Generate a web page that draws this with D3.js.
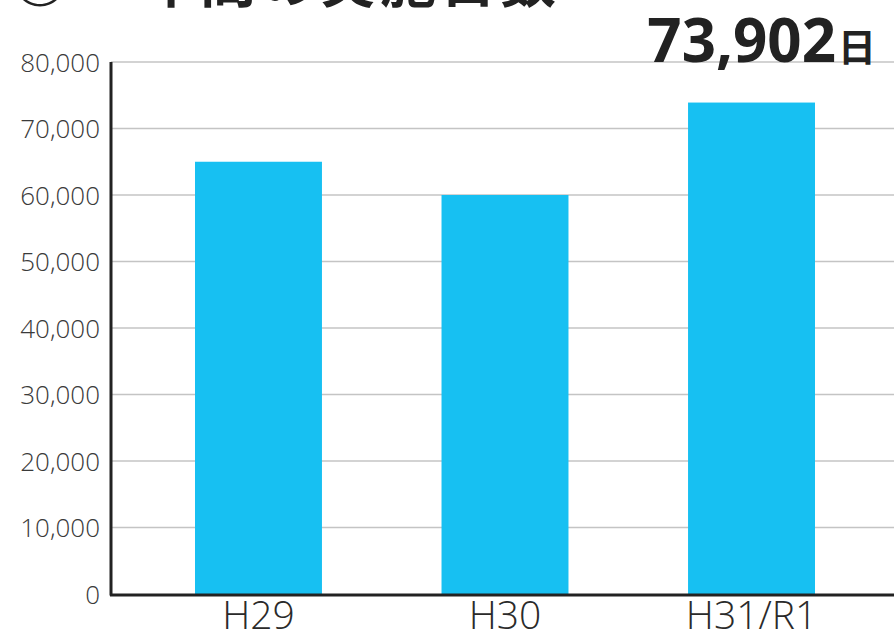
<!DOCTYPE html>
<html>
<head>
<meta charset="utf-8">
<script src="https://cdn.jsdelivr.net/npm/d3@7"></script>
<style>
  html, body { margin: 0; padding: 0; background: #fff; }
  svg { display: block; }
  .tick text { font-family: "Open Sans", sans-serif; font-weight: 300; }
</style>
</head>
<body>
<div id="chart"></div>
<script>
// data
var years = ["H29", "H30", "H31/R1"];
var days = [65000, 60000, 73902];
var yTicks = [0, 10000, 20000, 30000, 40000, 50000, 60000, 70000, 80000];
var totalLabel = "73,902";
var unitLabel = "日";
var titleText = "年間の実施日数";

var width = 894, height = 639;

var svg = d3.select("#chart")
  .append("svg")
  .attr("width", width)
  .attr("height", height);

var x = d3.scaleBand()
  .domain(years)
  .range([195, 815])
  .paddingInner(0.485)
  .paddingOuter(0);

var y = d3.scaleLinear()
  .domain([0, 80000])
  .range([594, 62]);

// title, cut off at the top edge
svg.append("text")
  .attr("x", 12).attr("y", 2)
  .style("font-family", "'Noto Sans CJK JP', sans-serif")
  .style("font-weight", 700)
  .style("font-size", "56px")
  .attr("fill", "#222")
  .text("◎");
svg.append("text")
  .attr("x", 140).attr("y", 2)
  .style("font-family", "'Noto Sans CJK JP', sans-serif")
  .style("font-weight", 700)
  .style("font-size", "56px")
  .style("letter-spacing", "4px")
  .attr("fill", "#222")
  .text(titleText);

// grid lines
svg.append("g")
  .selectAll("line")
  .data(yTicks.filter(function(d) { return d > 0; }))
  .enter().append("line")
  .attr("x1", 111).attr("x2", width)
  .attr("y1", function(d) { return y(d); })
  .attr("y2", function(d) { return y(d); })
  .attr("stroke", "#c4c4c4")
  .attr("stroke-width", 1.5);

// bars
svg.append("g")
  .selectAll("rect")
  .data(days)
  .enter().append("rect")
  .attr("x", function(d, i) { return x(years[i]); })
  .attr("width", x.bandwidth())
  .attr("y", function(d) { return y(d); })
  .attr("height", function(d) { return y(0) - y(d); })
  .attr("fill", "#17c0f2");

// y axis
var yAxis = svg.append("g")
  .attr("transform", "translate(111,0)")
  .call(d3.axisLeft(y).tickValues(yTicks).tickSize(0).tickPadding(11)
    .tickFormat(d3.format(",")));
yAxis.select(".domain").remove();
yAxis.selectAll("text")
  .style("font-size", "26px")
  .attr("fill", "#3a3a3a")
  .attr("dy", "0.36em");

svg.append("line")
  .attr("x1", 111).attr("x2", 111)
  .attr("y1", y(80000)).attr("y2", y(0) + 1.5)
  .attr("stroke", "#222").attr("stroke-width", 3);

// x axis
var xAxis = svg.append("g")
  .attr("transform", "translate(0," + y(0) + ")")
  .call(d3.axisBottom(x).tickSize(0).tickPadding(7));
xAxis.select(".domain").remove();
xAxis.selectAll("text")
  .style("font-size", "39px")
  .attr("fill", "#2a2a2a")
  .attr("dy", "0.71em");

svg.append("line")
  .attr("x1", 110).attr("x2", width)
  .attr("y1", y(0) + 1).attr("y2", y(0) + 1)
  .attr("stroke", "#222").attr("stroke-width", 3);

// total label
svg.append("text")
  .attr("x", 836).attr("y", 62)
  .attr("text-anchor", "end")
  .style("font-family", "'Open Sans', sans-serif")
  .style("font-weight", 700)
  .style("font-size", "60px")
  .attr("fill", "#222")
  .text(totalLabel);
svg.append("text")
  .attr("x", 838).attr("y", 61)
  .style("font-family", "'Noto Sans CJK JP', sans-serif")
  .style("font-weight", 700)
  .style("font-size", "38px")
  .attr("fill", "#222")
  .text(unitLabel);
</script>
</body>
</html>
